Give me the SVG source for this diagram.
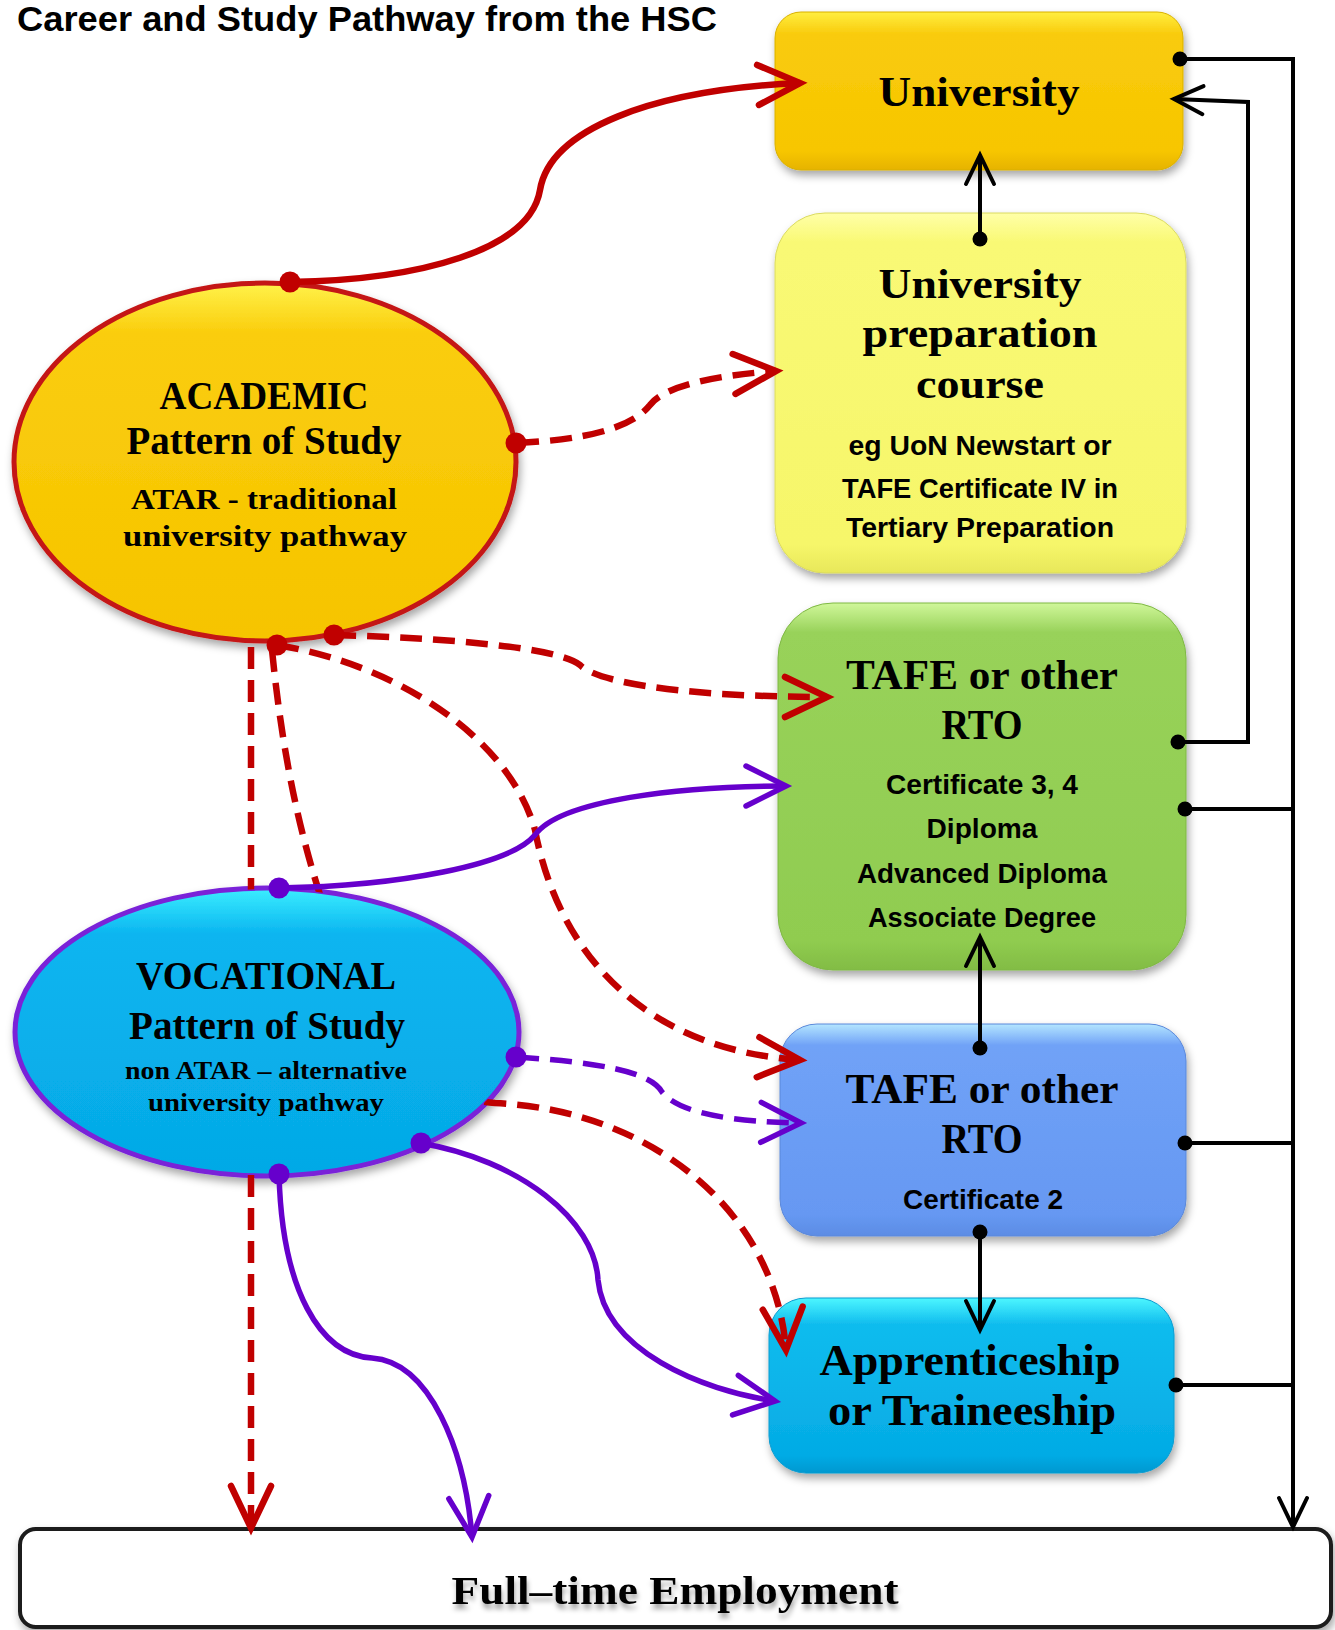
<svg xmlns="http://www.w3.org/2000/svg" width="1335" height="1630" viewBox="0 0 1335 1630">
<style>
.serif{font-family:"Liberation Serif","Times New Roman",serif;font-weight:bold;fill:#000;text-anchor:middle}
.sans{font-family:"Liberation Sans",Arial,sans-serif;font-weight:bold;fill:#000;text-anchor:middle}
.red{fill:none;stroke:#C00000;stroke-width:6.5}
.purple{fill:none;stroke:#6600CC;stroke-width:5.5}
.black{fill:none;stroke:#000;stroke-width:4}
.dash{stroke-dasharray:22 11}
.dotR{fill:#C00000}
.dotP{fill:#6600CC}
.dotB{fill:#000}
</style>
<defs>
<filter id="sh" x="-10%" y="-10%" width="120%" height="130%">
<feDropShadow dx="2" dy="5" stdDeviation="4" flood-color="#000" flood-opacity="0.35"/>
</filter>
<filter id="tsh" x="-5%" y="-20%" width="110%" height="160%">
<feDropShadow dx="1" dy="5" stdDeviation="2.5" flood-color="#000" flood-opacity="0.35"/>
</filter>
<linearGradient id="gUni" x1="0" y1="0" x2="0" y2="1">
<stop offset="0" stop-color="#FFEE40"/><stop offset="0.14" stop-color="#F9CB0C"/><stop offset="0.88" stop-color="#F7C600"/><stop offset="1" stop-color="#E6B300"/>
</linearGradient>
<linearGradient id="gPrep" x1="0" y1="0" x2="0" y2="1">
<stop offset="0" stop-color="#FFFFA8"/><stop offset="0.08" stop-color="#F9F975"/><stop offset="0.92" stop-color="#F6F66A"/><stop offset="1" stop-color="#E8E85A"/>
</linearGradient>
<linearGradient id="gGreen" x1="0" y1="0" x2="0" y2="1">
<stop offset="0" stop-color="#D0F79A"/><stop offset="0.08" stop-color="#98D25A"/><stop offset="0.92" stop-color="#90CC50"/><stop offset="1" stop-color="#82BC44"/>
</linearGradient>
<linearGradient id="gBlue" x1="0" y1="0" x2="0" y2="1">
<stop offset="0" stop-color="#B4E6FF"/><stop offset="0.1" stop-color="#70A2F7"/><stop offset="0.9" stop-color="#6698F2"/><stop offset="1" stop-color="#5C8CE4"/>
</linearGradient>
<linearGradient id="gApp" x1="0" y1="0" x2="0" y2="1">
<stop offset="0" stop-color="#4CF6FF"/><stop offset="0.15" stop-color="#10BCEE"/><stop offset="0.9" stop-color="#04ABE5"/><stop offset="1" stop-color="#0398D0"/>
</linearGradient>
<linearGradient id="gAcad" x1="0" y1="0" x2="0" y2="1">
<stop offset="0" stop-color="#FFF24A"/><stop offset="0.14" stop-color="#FACD0C"/><stop offset="1" stop-color="#F6C400"/>
</linearGradient>
<linearGradient id="gVoc" x1="0" y1="0" x2="0" y2="1">
<stop offset="0" stop-color="#3CEEFF"/><stop offset="0.16" stop-color="#0AB5F0"/><stop offset="1" stop-color="#05A9E6"/>
</linearGradient>
<marker id="arR" markerUnits="userSpaceOnUse" viewBox="-50 -26 56 52" refX="0" refY="0" markerWidth="56" markerHeight="52" orient="auto" overflow="visible">
<path d="M-42,-20 L0,0 L-42,20" fill="none" stroke="#C00000" stroke-width="6.5" stroke-linecap="round"/>
</marker>
<marker id="arP" markerUnits="userSpaceOnUse" viewBox="-50 -26 56 52" refX="0" refY="0" markerWidth="56" markerHeight="52" orient="auto" overflow="visible">
<path d="M-40,-20 L0,0 L-40,20" fill="none" stroke="#6600CC" stroke-width="5.5" stroke-linecap="round"/>
</marker>
<marker id="arB" markerUnits="userSpaceOnUse" viewBox="-36 -18 40 36" refX="0" refY="0" markerWidth="40" markerHeight="36" orient="auto" overflow="visible">
<path d="M-29,-14 L0,0 L-29,14" fill="none" stroke="#000" stroke-width="4" stroke-linecap="round"/>
</marker>
<mask id="mVoc" maskUnits="userSpaceOnUse" x="0" y="0" width="1335" height="1630">
<rect width="1335" height="1630" fill="#fff"/>
<ellipse cx="267" cy="1032" rx="250" ry="143" fill="#000"/>
</mask>
</defs>

<rect width="1335" height="1630" fill="#fff"/>

<g id="title">
<text class="sans" x="17" y="31" font-size="35" style="text-anchor:start" textLength="700" lengthAdjust="spacingAndGlyphs">Career and Study Pathway from the HSC</text>
</g>

<g id="university">
<rect x="775" y="12" width="408" height="158" rx="26" fill="url(#gUni)" stroke="#D9B000" stroke-width="1" filter="url(#sh)"/>
<text class="serif" x="979" y="106" font-size="43" textLength="201" lengthAdjust="spacingAndGlyphs">University</text>
</g>

<g id="uni-prep">
<rect x="775" y="213" width="411" height="360" rx="50" fill="url(#gPrep)" stroke="#DADA60" stroke-width="1" filter="url(#sh)"/>
<text class="serif" x="980" y="298" font-size="43" textLength="203" lengthAdjust="spacingAndGlyphs">University</text>
<text class="serif" x="980" y="347" font-size="43" textLength="235" lengthAdjust="spacingAndGlyphs">preparation</text>
<text class="serif" x="980" y="398" font-size="43" textLength="128" lengthAdjust="spacingAndGlyphs">course</text>
<text class="sans" x="980" y="455" font-size="27" textLength="263" lengthAdjust="spacingAndGlyphs">eg UoN Newstart or</text>
<text class="sans" x="980" y="498" font-size="27" textLength="276" lengthAdjust="spacingAndGlyphs">TAFE Certificate IV in</text>
<text class="sans" x="980" y="537" font-size="27" textLength="268" lengthAdjust="spacingAndGlyphs">Tertiary Preparation</text>
</g>

<g id="tafe-higher">
<rect x="778" y="603" width="408" height="367" rx="55" fill="url(#gGreen)" stroke="#7FB845" stroke-width="1" filter="url(#sh)"/>
<text class="serif" x="982" y="689" font-size="43" textLength="272" lengthAdjust="spacingAndGlyphs">TAFE or other</text>
<text class="serif" x="982" y="739" font-size="43" textLength="81" lengthAdjust="spacingAndGlyphs">RTO</text>
<text class="sans" x="982" y="794" font-size="27" textLength="192" lengthAdjust="spacingAndGlyphs">Certificate 3, 4</text>
<text class="sans" x="982" y="838" font-size="27" textLength="111" lengthAdjust="spacingAndGlyphs">Diploma</text>
<text class="sans" x="982" y="883" font-size="27" textLength="250" lengthAdjust="spacingAndGlyphs">Advanced Diploma</text>
<text class="sans" x="982" y="927" font-size="27" textLength="228" lengthAdjust="spacingAndGlyphs">Associate Degree</text>
</g>

<g id="tafe-cert2">
<rect x="780" y="1024" width="406" height="212" rx="37" fill="url(#gBlue)" stroke="#5A88DA" stroke-width="1" filter="url(#sh)"/>
<text class="serif" x="982" y="1103" font-size="43" textLength="273" lengthAdjust="spacingAndGlyphs">TAFE or other</text>
<text class="serif" x="982" y="1153" font-size="43" textLength="81" lengthAdjust="spacingAndGlyphs">RTO</text>
<text class="sans" x="983" y="1209" font-size="27" textLength="160" lengthAdjust="spacingAndGlyphs">Certificate 2</text>
</g>

<g id="apprenticeship">
<rect x="769" y="1298" width="405" height="175" rx="37" fill="url(#gApp)" stroke="#0A9CD0" stroke-width="1" filter="url(#sh)"/>
<text class="serif" x="970" y="1375" font-size="44" textLength="301" lengthAdjust="spacingAndGlyphs">Apprenticeship</text>
<text class="serif" x="972" y="1425" font-size="44" textLength="288" lengthAdjust="spacingAndGlyphs">or Traineeship</text>
</g>

<g id="academic">
<ellipse cx="265" cy="462" rx="251" ry="179" fill="url(#gAcad)" stroke="#C41414" stroke-width="5" filter="url(#sh)"/>
<text class="serif" x="264" y="409" font-size="41" textLength="209" lengthAdjust="spacingAndGlyphs">ACADEMIC</text>
<text class="serif" x="264" y="454" font-size="40" textLength="275" lengthAdjust="spacingAndGlyphs">Pattern of Study</text>
<text class="serif" x="264" y="509" font-size="30" textLength="266" lengthAdjust="spacingAndGlyphs">ATAR - traditional</text>
<text class="serif" x="265" y="546" font-size="30" textLength="284" lengthAdjust="spacingAndGlyphs">university pathway</text>
</g>

<g id="vocational">
<ellipse cx="267" cy="1032" rx="252" ry="144" fill="url(#gVoc)" stroke="#7A22D8" stroke-width="5" filter="url(#sh)"/>
<text class="serif" x="266" y="989" font-size="41" textLength="260" lengthAdjust="spacingAndGlyphs">VOCATIONAL</text>
<text class="serif" x="267" y="1039" font-size="40" textLength="276" lengthAdjust="spacingAndGlyphs">Pattern of Study</text>
<text class="serif" x="266" y="1079" font-size="25" textLength="282" lengthAdjust="spacingAndGlyphs">non ATAR – alternative</text>
<text class="serif" x="266" y="1111" font-size="25" textLength="236" lengthAdjust="spacingAndGlyphs">university pathway</text>
</g>

<g id="employment">
<rect x="20" y="1529" width="1311" height="98" rx="16" fill="#fff" stroke="#1A1A1A" stroke-width="4" filter="url(#sh)"/>
<text class="serif" x="675" y="1604" font-size="39" textLength="447" lengthAdjust="spacingAndGlyphs" filter="url(#tsh)">Full–time Employment</text>
</g>

<g id="connectors">
<path class="red" d="M290,282 C420,280 530,250 540,190 C550,130 650,90 800,83" marker-end="url(#arR)"/>
<path class="red dash" d="M517,443 C580,440 630,430 650,405 C665,385 720,375 776,371" marker-end="url(#arR)"/>
<path class="red dash" d="M334,635 C450,638 560,648 580,665 C600,685 700,697 827,697" marker-end="url(#arR)"/>
<path class="red dash" d="M277,645 C400,665 510,740 535,830 C560,960 650,1050 800,1060" marker-end="url(#arR)"/>
<path class="red dash" d="M251,647 L251,1528" mask="url(#mVoc)" marker-end="url(#arR)"/>
<path class="red dash" d="M272,650 C282,750 300,850 340,950 C380,1050 430,1098 495,1103 C650,1110 775,1210 786,1350" mask="url(#mVoc)" marker-end="url(#arR)"/>
<path class="purple" d="M279,888 C400,886 510,865 535,835 C560,800 680,786 786,786" marker-end="url(#arP)"/>
<path class="purple dash" d="M517,1057 C590,1062 650,1070 662,1092 C680,1115 740,1122 801,1123" marker-end="url(#arP)"/>
<path class="purple" d="M420,1143 C520,1160 595,1220 598,1280 C605,1350 700,1390 775,1401" marker-end="url(#arP)"/>
<path class="purple" d="M279,1174 C282,1290 320,1355 372,1358 C430,1362 465,1450 472,1537" marker-end="url(#arP)"/>
<path class="black" d="M980,239 L980,155" marker-end="url(#arB)"/>
<path class="black" d="M980,1048 L980,937" marker-end="url(#arB)"/>
<path class="black" d="M980,1232 L980,1330" marker-end="url(#arB)"/>
<path class="black" d="M1180,59 L1293,59 L1293,1527" marker-end="url(#arB)"/>
<path class="black" d="M1178,742 L1248,742 L1248,102 L1174,99" marker-end="url(#arB)"/>
<path class="black" d="M1185,809 L1293,809"/>
<path class="black" d="M1185,1143 L1293,1143"/>
<path class="black" d="M1176,1385 L1293,1385"/>
<circle class="dotR" cx="290" cy="282" r="10.5"/>
<circle class="dotR" cx="516" cy="443" r="10.5"/>
<circle class="dotR" cx="334" cy="635" r="10.5"/>
<circle class="dotR" cx="277" cy="645" r="10.5"/>
<circle class="dotP" cx="279" cy="888" r="10.5"/>
<circle class="dotP" cx="516" cy="1057" r="10.5"/>
<circle class="dotP" cx="421" cy="1143" r="10.5"/>
<circle class="dotP" cx="279" cy="1174" r="10.5"/>
<circle class="dotB" cx="980" cy="239" r="7.5"/>
<circle class="dotB" cx="980" cy="1048" r="7.5"/>
<circle class="dotB" cx="980" cy="1232" r="7.5"/>
<circle class="dotB" cx="1180" cy="59" r="7.5"/>
<circle class="dotB" cx="1178" cy="742" r="7.5"/>
<circle class="dotB" cx="1185" cy="809" r="7.5"/>
<circle class="dotB" cx="1185" cy="1143" r="7.5"/>
<circle class="dotB" cx="1176" cy="1385" r="7.5"/>
</g>
</svg>
